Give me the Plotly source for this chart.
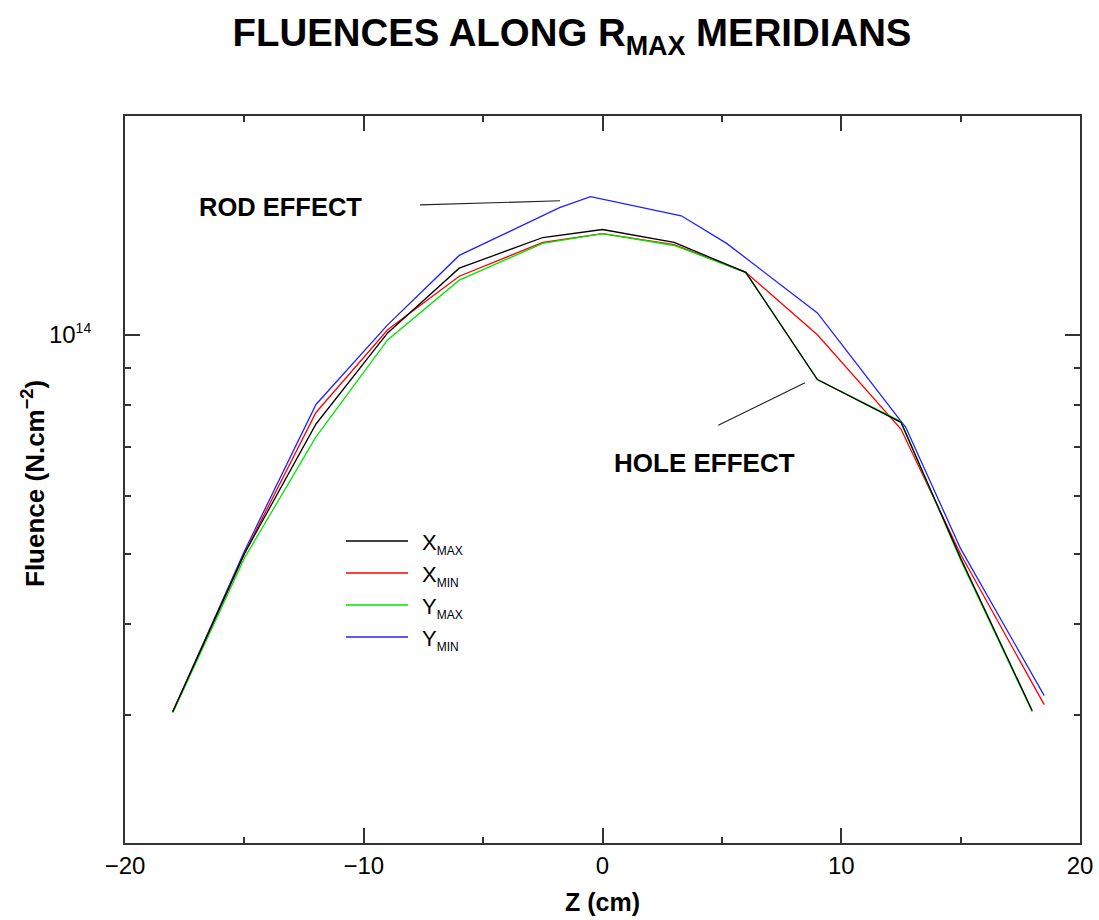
import plotly.graph_objects as go

# ---- data ----
z_xmax = [-18, -15, -12, -9, -6, -2.5, 0, 3, 6, 9, 12.5, 15, 18]
f_xmax = [3.03e13, 5.0e13, 7.54e13, 1.006e14, 1.235e14, 1.361e14, 1.396e14, 1.340e14, 1.219e14, 8.68e13, 7.58e13, 4.93e13, 3.04e13]

z_xmin = [-18, -15, -12, -9, -6, -2.5, 0, 3, 6, 9, 12.5, 15, 18.5]
f_xmin = [3.03e13, 5.0e13, 7.82e13, 1.016e14, 1.204e14, 1.340e14, 1.378e14, 1.331e14, 1.219e14, 1.0e14, 7.42e13, 4.99e13, 3.10e13]

z_ymax = [-18, -15, -12, -9, -6, -2.5, 0, 3, 6, 9, 12.5, 15, 18]
f_ymax = [3.02e13, 4.93e13, 7.24e13, 9.84e13, 1.189e14, 1.336e14, 1.378e14, 1.327e14, 1.219e14, 8.68e13, 7.6e13, 4.9e13, 3.03e13]

z_ymin = [-18, -15, -12, -9, -6, -1.8, -0.5, 3.3, 5.2, 9, 12.7, 15, 18.5]
f_ymin = [3.03e13, 5.04e13, 8.02e13, 1.032e14, 1.286e14, 1.496e14, 1.549e14, 1.458e14, 1.336e14, 1.072e14, 7.46e13, 5.08e13, 3.19e13]

# pointer lines for annotations
rod_z = [-7.64, -1.78]
rod_f = [1.509e14, 1.529e14]
hole_z = [4.85, 8.48]
hole_f = [7.51e13, 8.59e13]

series = [
    ("X", "MAX", z_xmax, f_xmax, "#000000"),
    ("X", "MIN", z_xmin, f_xmin, "#ff0000"),
    ("Y", "MAX", z_ymax, f_ymax, "#00e600"),
    ("Y", "MIN", z_ymin, f_ymin, "#2020ff"),
]

x_major = [-20, -10, 0, 10, 20]
x_major_text = ["\u221220", "\u221210", "0", "10", "20"]
x_minor = [-15, -5, 5, 15]
y_major = [1e14]
y_major_text = ["10<sup><span style='font-size:14px'>14</span></sup>"]
y_minor = [2e13, 3e13, 4e13, 5e13, 6e13, 7e13, 8e13, 9e13, 2e14]

FONT = "Liberation Sans"

fig = go.Figure()
for name, sub, zz, ff, col in [series[3], series[1], series[2], series[0]]:
    fig.add_trace(go.Scatter(x=zz, y=ff, mode="lines", line=dict(color=col, width=1.3),
                             name=f"{name}<sub>{sub}</sub>", showlegend=False))

fig.add_trace(go.Scatter(x=rod_z, y=rod_f, mode="lines", line=dict(color="#222", width=1.2), showlegend=False))
fig.add_trace(go.Scatter(x=hole_z, y=hole_f, mode="lines", line=dict(color="#222", width=1.2), showlegend=False))

W, H = 1099, 920
L, T = 125, 116
pw, ph = 955, 727
R, B = W - L - pw, H - T - ph

def px2paper(x, y):
    return (x - L) / pw, 1 - (y - T) / ph

# manual legend
leg_y = [541, 573, 605, 637]
for (name, sub, _, _, col), yy in zip(series, leg_y):
    x0, y0 = px2paper(346, yy)
    x1, _ = px2paper(408, yy)
    fig.add_shape(type="line", xref="paper", yref="paper", x0=x0, x1=x1, y0=y0, y1=y0,
                  line=dict(color=col, width=1.5))
    tx, ty = px2paper(420, yy + 3)
    fig.add_annotation(xref="paper", yref="paper", x=tx, y=ty, xanchor="left", yanchor="middle",
                       text=f"{name}<sub><span style='font-size:12px'>{sub}</span></sub>",
                       showarrow=False, font=dict(family=FONT, size=22, color="#000"))

ax, ay = px2paper(280, 207)
fig.add_annotation(xref="paper", yref="paper", x=ax, y=ay, xanchor="center", yanchor="middle",
                   text="<b>ROD EFFECT</b>", showarrow=False,
                   font=dict(family=FONT, size=25.5, color="#000"))
ax, ay = px2paper(704, 463)
fig.add_annotation(xref="paper", yref="paper", x=ax, y=ay, xanchor="center", yanchor="middle",
                   text="<b>HOLE EFFECT</b>", showarrow=False,
                   font=dict(family=FONT, size=26, color="#000"))

# y-axis title placed as rotated text
ax, ay = px2paper(33, 484)
fig.add_annotation(xref="paper", yref="paper", x=ax, y=ay, xanchor="center", yanchor="middle",
                   text="<b>Fluence (N.cm<sup>\u22122</sup>)</b>", textangle=-90, showarrow=False,
                   font=dict(family=FONT, size=26, color="#000"))

fig.update_layout(
    width=W, height=H,
    margin=dict(l=L, r=R, t=T, b=B),
    paper_bgcolor="white", plot_bgcolor="white",
    title=dict(text="<b>FLUENCES ALONG R<sub>MAX</sub> MERIDIANS</b>",
               xref="container", x=572 / W, xanchor="center",
               yref="container", y=1 - 33 / H, yanchor="middle",
               font=dict(family=FONT, size=38.4, color="#000")),
    font=dict(family=FONT, color="#000"),
)

fig.update_xaxes(
    range=[-20, 20], showgrid=False, zeroline=False, automargin=False,
    showline=True, linecolor="#333", linewidth=2, mirror="ticks",
    ticks="inside", tickvals=x_major, ticktext=x_major_text,
    ticklen=15, tickwidth=1.5, tickcolor="#333",
    minor=dict(ticks="inside", tickvals=x_minor, ticklen=6, tickwidth=1.5, tickcolor="#333"),
    tickfont=dict(family=FONT, size=24, color="#000"), ticklabeloverflow="allow",
    title=dict(text="<b>Z (cm)</b>", font=dict(family=FONT, size=25, color="#000"), standoff=16),
)
fig.update_yaxes(
    type="log", range=[13.301, 14.301], showgrid=False, zeroline=False, automargin=False,
    showline=True, linecolor="#333", linewidth=2, mirror="ticks",
    ticks="inside", tickvals=y_major, ticktext=y_major_text,
    ticklen=15, tickwidth=1.5, tickcolor="#333",
    minor=dict(ticks="inside", tickvals=y_minor, ticklen=6, tickwidth=1.5, tickcolor="#333"),
    tickfont=dict(family=FONT, size=24, color="#000"), ticklabelstandoff=27,
)

fig.write_html("out.html", config={"displayModeBar": False},
               post_script="document.body.style.margin='0';document.body.style.overflow='hidden';")
